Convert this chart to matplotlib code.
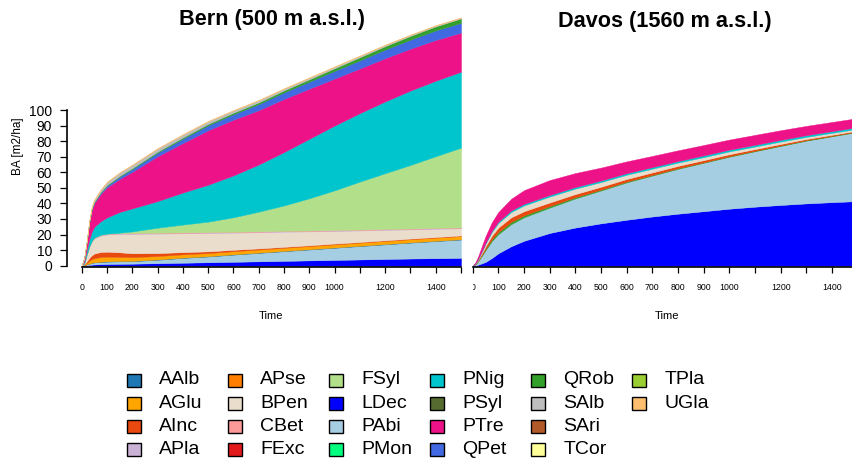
import matplotlib
matplotlib.use('Agg')
import matplotlib.pyplot as plt
from matplotlib.patches import Rectangle
from matplotlib.transforms import Bbox, TransformedBbox

plt.rcParams['font.family'] = ['Liberation Sans', 'DejaVu Sans']

# simulation years
T = [0, 10, 20, 30, 40, 50, 75, 100, 150, 200, 300, 400, 500, 600, 700,
     800, 900, 1000, 1100, 1200, 1300, 1400, 1500]

# basal area per species, Bern (m2/ha)
bern_LDec = [0, 0.1, 0.3, 0.5, 0.7, 0.8, 1.0, 1.1, 1.2, 1.3, 1.6, 1.9, 2.2, 2.5, 2.8, 3.1, 3.4, 3.7, 4.0, 4.3, 4.6, 4.8, 5.0]
bern_PAbi = [0, 0.2, 0.5, 0.8, 1.1, 1.3, 1.4, 1.5, 1.6, 1.6, 2.2, 3.1, 3.7, 4.6, 5.4, 6.2, 7.0, 7.8, 8.6, 9.4, 10.2, 11.0, 11.8]
bern_AAlb = [0, 0, 0, 0.1, 0.1, 0.1, 0.2, 0.2, 0.2, 0.2, 0.2, 0.2, 0.2, 0.2, 0.2, 0.2, 0.2, 0.2, 0.2, 0.2, 0.2, 0.2, 0.2]
bern_AGlu = [0, 0.3, 1.0, 1.8, 2.3, 2.6, 3.0, 3.0, 2.7, 2.4, 2.2, 2.1, 2.0, 2.0, 2.0, 2.0, 2.0, 2.0, 2.0, 2.0, 2.0, 2.0, 2.0]
bern_AInc = [0, 0.3, 1.0, 1.8, 2.5, 3.0, 3.2, 3.2, 2.9, 2.5, 1.9, 1.4, 1.1, 0.9, 0.7, 0.6, 0.5, 0.5, 0.4, 0.4, 0.4, 0.4, 0.4]
bern_BPen = [0, 0.6, 4.2, 7.0, 8.8, 9.7, 10.5, 11.0, 11.8, 12.4, 12.5, 12.1, 11.8, 11.0, 10.4, 9.7, 8.9, 8.1, 7.4, 6.7, 5.9, 5.3, 4.6]
bern_APla = [0, 0, 0.1, 0.2, 0.3, 0.3, 0.3, 0.3, 0.3, 0.3, 0.3, 0.3, 0.3, 0.3, 0.3, 0.3, 0.3, 0.3, 0.3, 0.3, 0.3, 0.3, 0.3]
bern_CBet = [0, 0, 0.1, 0.2, 0.3, 0.3, 0.3, 0.3, 0.3, 0.3, 0.3, 0.3, 0.3, 0.3, 0.3, 0.3, 0.3, 0.3, 0.3, 0.3, 0.3, 0.3, 0.3]
bern_FSyl = [0, 0, 0, 0, 0, 0, 0, 0, 0.2, 1.0, 3.2, 5.0, 6.7, 9.3, 12.6, 16.3, 20.7, 25.5, 30.8, 35.8, 40.8, 46.0, 51.2]
bern_PNig = [0, 1.0, 2.8, 4.6, 5.9, 6.9, 8.6, 10.4, 13.3, 14.8, 17.1, 20.6, 23.7, 26.9, 30.3, 34.3, 38.2, 41.6, 44.0, 46.1, 47.8, 48.5, 48.8]
bern_PTre = [0, 2.4, 5.4, 10.8, 14.1, 15.3, 17.6, 19.4, 21.2, 23.5, 28.8, 31.8, 35.0, 35.8, 34.9, 34.1, 32.2, 30.2, 28.7, 27.8, 26.9, 26.2, 25.1]
bern_QPet = [0, 0, 0.1, 0.3, 0.5, 0.6, 0.8, 1.0, 1.5, 1.8, 2.3, 2.8, 3.2, 3.5, 3.9, 4.2, 4.5, 4.9, 5.2, 5.5, 5.8, 6.1, 6.3]
bern_QRob = [0, 0, 0.1, 0.2, 0.3, 0.3, 0.4, 0.5, 0.5, 0.6, 0.7, 0.8, 0.9, 1.0, 1.1, 1.3, 1.5, 1.7, 2.0, 2.2, 2.4, 2.6, 2.8]
bern_SAlb = [0, 0.1, 0.3, 0.6, 0.9, 1.1, 1.5, 1.8, 2.0, 2.0, 1.9, 1.8, 1.6, 1.4, 1.3, 1.1, 1.0, 0.9, 0.8, 0.7, 0.6, 0.5, 0.4]
bern_UGla = [0, 0, 0.1, 0.1, 0.2, 0.2, 0.2, 0.3, 0.3, 0.3, 0.3, 0.3, 0.3, 0.3, 0.3, 0.3, 0.3, 0.3, 0.3, 0.3, 0.3, 0.3, 0.3]

# basal area per species, Davos (m2/ha)
dav_LDec = [0, 0.2, 0.6, 1.2, 1.8, 2.4, 5.0, 8.0, 12.5, 16.0, 21.0, 24.5, 27.2, 29.5, 31.6, 33.4, 35.0, 36.6, 37.9, 39.0, 40.0, 40.8, 41.5]
dav_PAbi = [0, 0.6, 2.0, 3.8, 5.6, 7.6, 10.9, 12.3, 14.2, 15.1, 16.3, 18.7, 21.1, 24.0, 26.3, 28.8, 31.1, 33.4, 35.6, 37.9, 40.3, 42.3, 44.4]
dav_QRob = [0, 0.1, 0.2, 0.4, 0.6, 0.8, 1.1, 1.3, 1.4, 1.2, 1.0, 0.8, 0.6, 0.5, 0.4, 0.4, 0.3, 0.3, 0.3, 0.3, 0.3, 0.3, 0.3]
dav_AInc = [0, 0.2, 0.5, 0.9, 1.3, 1.7, 2.4, 2.9, 3.0, 2.7, 2.3, 2.0, 1.8, 1.7, 1.6, 1.5, 1.4, 1.3, 1.1, 1.0, 0.8, 0.7, 0.6]
dav_BPen = [0, 0.2, 0.5, 0.9, 1.3, 1.7, 2.4, 2.9, 3.4, 3.7, 3.8, 3.5, 3.0, 2.7, 2.4, 2.1, 1.9, 1.8, 1.6, 1.5, 1.3, 1.2, 1.1]
dav_PNig = [0, 0.1, 0.2, 0.3, 0.4, 0.5, 0.7, 0.9, 1.0, 1.0, 1.0, 1.0, 1.0, 1.0, 1.0, 1.0, 1.1, 1.1, 1.1, 1.1, 1.1, 1.1, 1.1]
dav_PTre = [0, 0.6, 1.5, 2.5, 3.5, 4.3, 5.5, 6.2, 7.5, 8.8, 9.6, 9.0, 8.3, 7.6, 7.2, 6.9, 6.7, 6.5, 6.4, 6.2, 6.0, 5.9, 5.8]

species = ['AAlb', 'AGlu', 'AInc', 'APla', 'APse', 'BPen', 'CBet', 'FExc',
           'FSyl', 'LDec', 'PAbi', 'PMon', 'PNig', 'PSyl', 'PTre', 'QPet',
           'QRob', 'SAlb', 'SAri', 'TCor', 'TPla', 'UGla']
sp_colors = ['#1F78B4', '#FFA500', '#E8490F', '#CAB2D6', '#FF7F00', '#EADDCC',
             '#FB9A99', '#E31A1C', '#B2DF8A', '#0000FF', '#A6CEE3', '#00FF7F',
             '#00C5CD', '#556B2F', '#EE1289', '#4169E1', '#33A02C', '#BEBEBE',
             '#B15928', '#FFFF99', '#9ACD32', '#FDBF6F']
col = dict(zip(species, sp_colors))

bern = [('LDec', bern_LDec), ('PAbi', bern_PAbi), ('AAlb', bern_AAlb),
        ('AGlu', bern_AGlu), ('AInc', bern_AInc), ('BPen', bern_BPen),
        ('APla', bern_APla), ('CBet', bern_CBet), ('FSyl', bern_FSyl),
        ('PNig', bern_PNig), ('PTre', bern_PTre), ('QPet', bern_QPet),
        ('QRob', bern_QRob), ('SAlb', bern_SAlb), ('UGla', bern_UGla)]
davos = [('LDec', dav_LDec), ('PAbi', dav_PAbi), ('QRob', dav_QRob),
         ('AInc', dav_AInc), ('BPen', dav_BPen), ('PNig', dav_PNig),
         ('PTre', dav_PTre)]

W, H = 852, 462
fig = plt.figure(figsize=(W / 100, H / 100), dpi=100)

y0 = 265.7          # pixel row of BA = 0
ppu = 1.557         # pixels per m2/ha
ymax = y0 / ppu

ax1 = fig.add_axes([81.7 / W, (H - y0) / H, 379.3 / W, y0 / H])
ax2 = fig.add_axes([472.7 / W, (H - y0) / H, 384.9 / W, y0 / H])

xt = list(range(0, 1600, 100))
xl = [str(t) if (t <= 1000 or t in (1200, 1400)) else '' for t in xt]

for ax, layers in ((ax1, bern), (ax2, davos)):
    polys = ax.stackplot(T, *[v for _, v in layers],
                         colors=[col[n] for n, _ in layers])
    for p, (n, _) in zip(polys, layers):
        p.set_edgecolor(col[n])
        p.set_linewidth(0.3)
    ax.set_xlim(0, 1500)
    ax.set_ylim(0, ymax)
    ax.patch.set_visible(False)
    for s in ('top', 'right'):
        ax.spines[s].set_visible(False)
    ax.spines['bottom'].set_position(('outward', 1))
    ax.spines['bottom'].set_bounds(0, 1500)
    ax.spines['bottom'].set_linewidth(1.2)
    ax.set_xticks(xt, xl)
    ax.tick_params(axis='x', length=4.3, width=0.9, pad=7, labelsize=6.3)

ax1.spines['left'].set_position(('outward', 10.8))
ax1.spines['left'].set_bounds(0, 100)
ax1.spines['left'].set_linewidth(1.2)
ax1.set_yticks(range(0, 101, 10))
ax1.tick_params(axis='y', length=4.8, width=0.9, pad=5.8, labelsize=10)

ax2.spines['left'].set_visible(False)
ax2.set_yticks([])
clip = TransformedBbox(Bbox([[0, -1], [1, 1]]), ax2.transAxes)
for lbl in ax2.get_xticklabels():
    if lbl.get_text() == '0':
        lbl.set_clip_box(clip)
        lbl.set_clip_on(True)

fig.text(272 / W, 1 - 19 / H, 'Bern (500 m a.s.l.)', ha='center', va='center',
         fontsize=15.6, fontweight='bold')
fig.text(664.5 / W, 1 - 21.5 / H, 'Davos (1560 m a.s.l.)', ha='center', va='center',
         fontsize=15.6, fontweight='bold')
fig.text(18 / W, 1 - 146 / H, 'BA [m2/ha]', rotation=90, ha='center', va='center',
         fontsize=8.5)
fig.text(271.3 / W, 1 - 315.7 / H, 'Time', ha='center', va='center', fontsize=8.1)
fig.text(667 / W, 1 - 315.7 / H, 'Time', ha='center', va='center', fontsize=8.1)

# legend: 6 columns x 4 rows, filled column by column
for k, sp in enumerate(species):
    cx = 126.7 + 101 * (k // 4)
    cy = 380 + 23.3 * (k % 4)
    fig.add_artist(Rectangle((cx / W, 1 - (cy + 6.5) / H), 14 / W, 13 / H,
                             transform=fig.transFigure, facecolor=col[sp],
                             edgecolor='black', linewidth=1))
    fig.text((cx + 32.6) / W, 1 - cy / H, sp, ha='left', va='center', fontsize=14)

fig.savefig('out.png', dpi=100)
